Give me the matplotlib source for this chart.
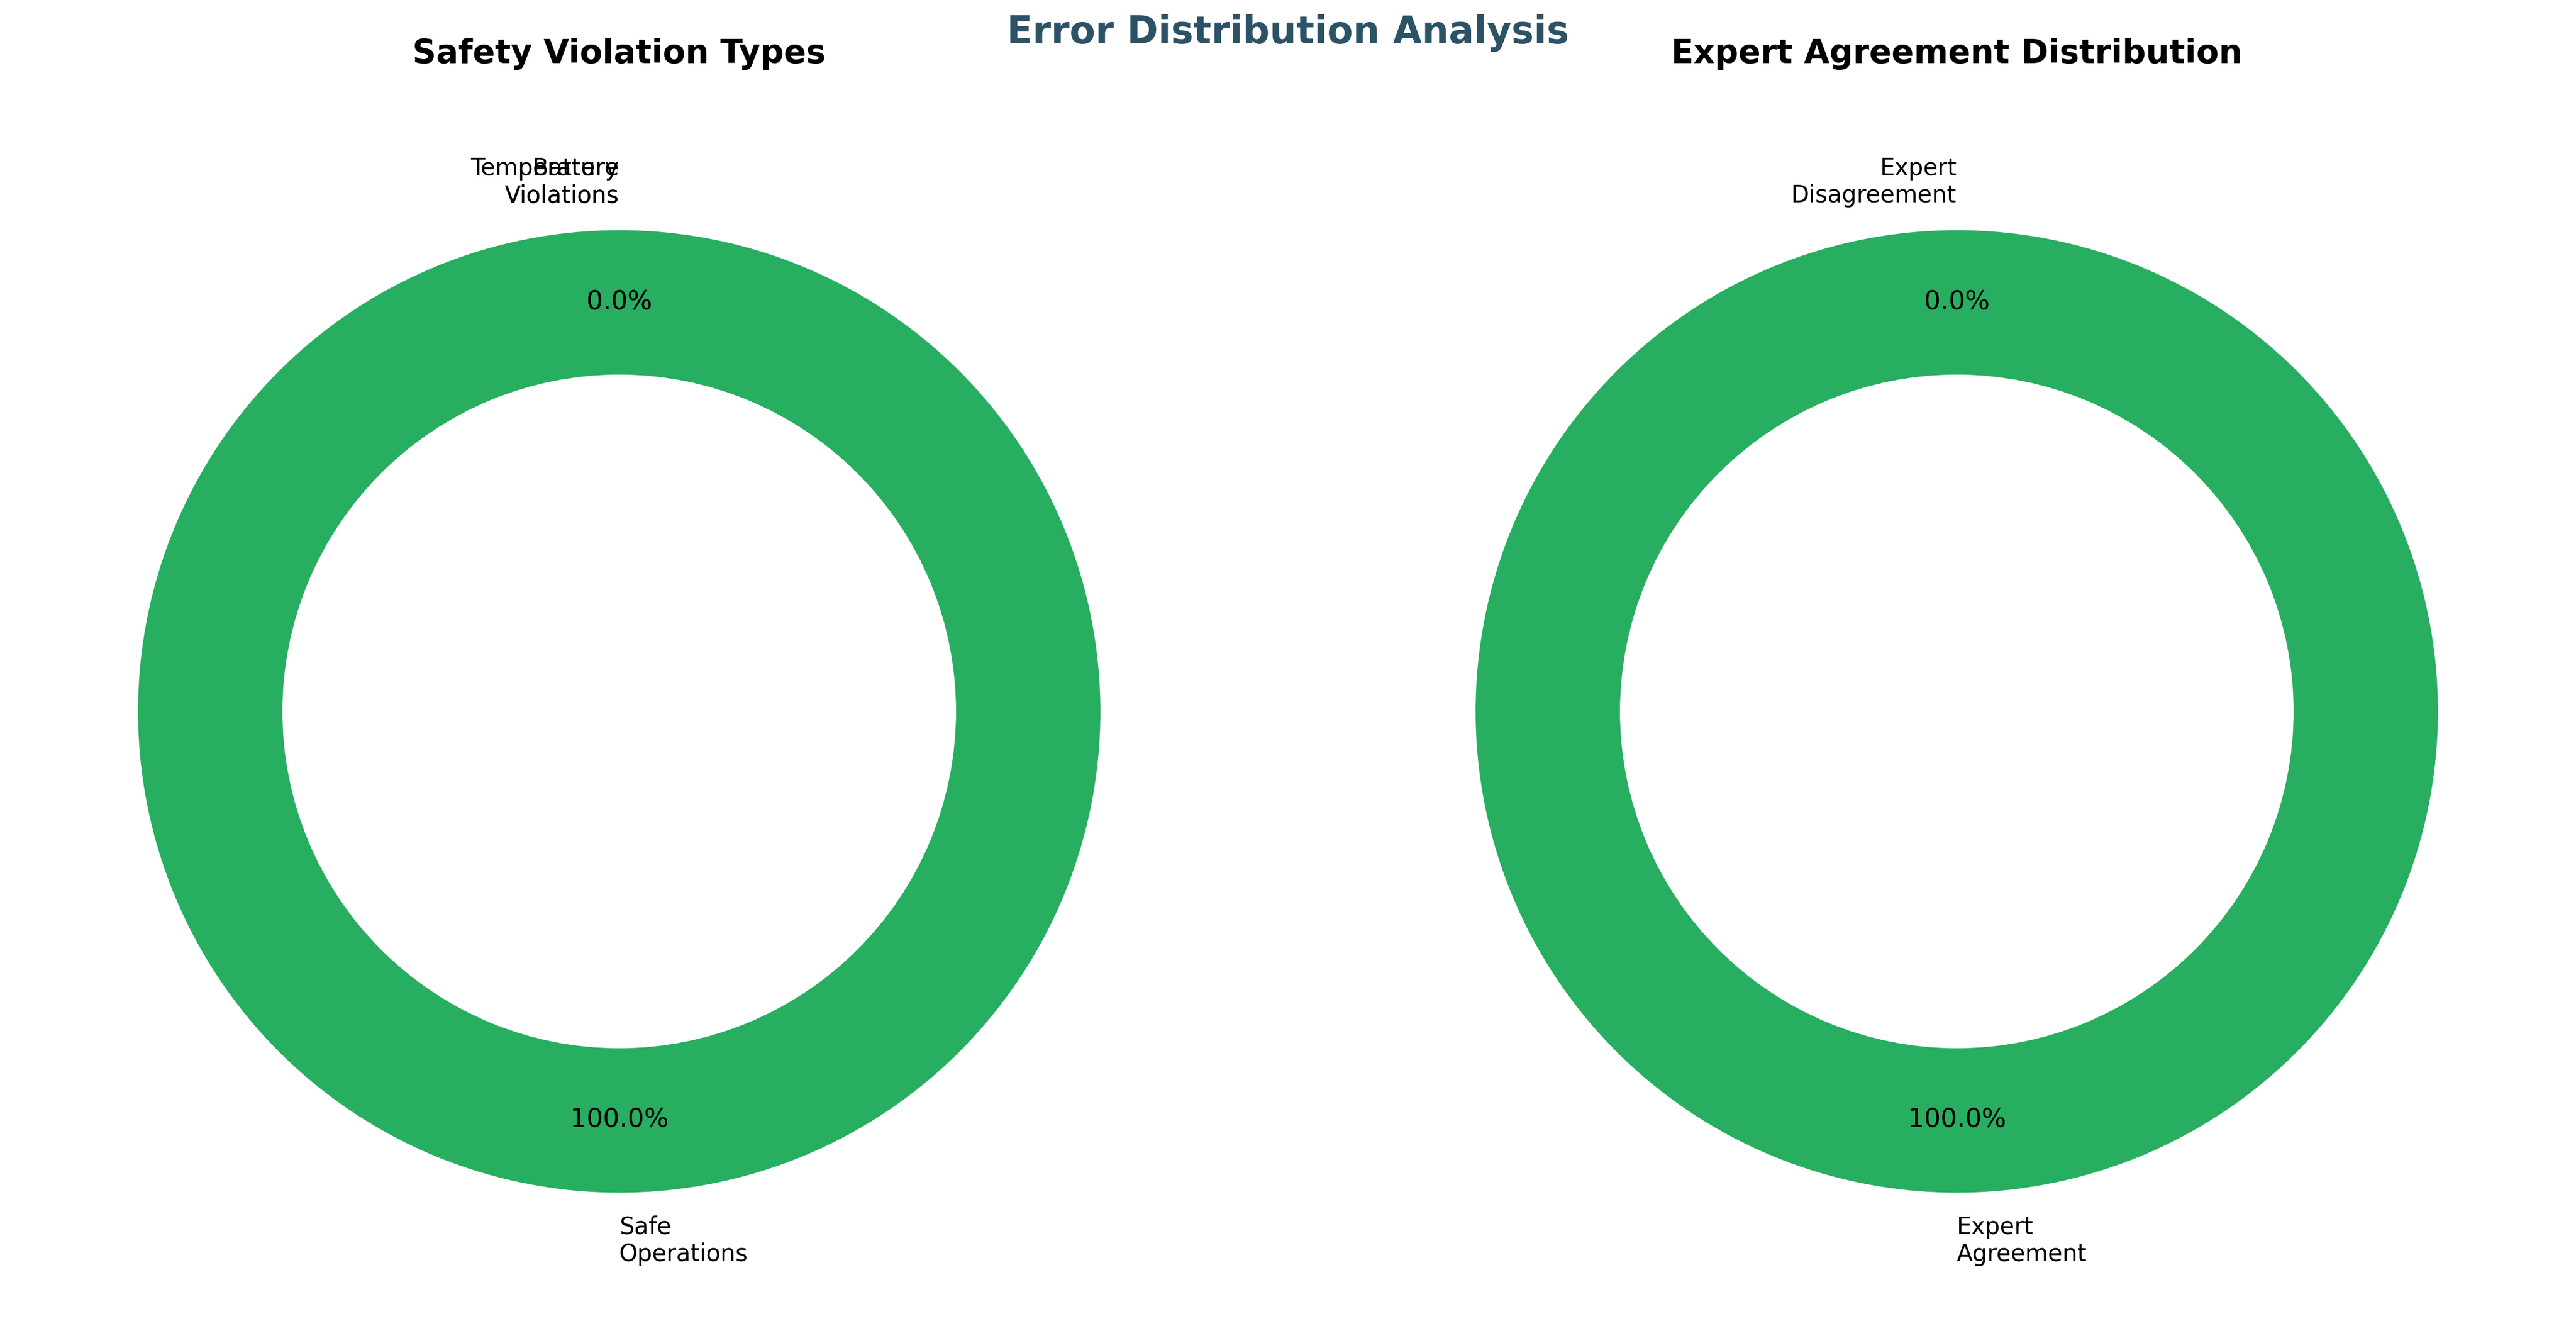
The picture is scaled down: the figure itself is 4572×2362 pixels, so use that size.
import matplotlib
matplotlib.use("Agg")
import matplotlib.pyplot as plt

safety_labels = ["Safe\nOperations", "Temperature\nViolations", "Battery\nViolations"]
safety_values = [100, 0, 0]
safety_colors = ["#27ae60", "#e74c3c", "#f39c12"]

expert_labels = ["Expert\nAgreement", "Expert\nDisagreement"]
expert_values = [100, 0]
expert_colors = ["#27ae60", "#e74c3c"]

fig = plt.figure(figsize=(4572 / 300, 2362 / 300), dpi=300)

axw, axh = 2135 / 4572, 2135 / 2362
ax1 = fig.add_axes([31.5 / 4572, 32 / 2362, axw, axh])
ax2 = fig.add_axes([(3473 - 1067.5) / 4572, 32 / 2362, axw, axh])

for ax, vals, labs, cols, title in [
    (ax1, safety_values, safety_labels, safety_colors, "Safety Violation Types"),
    (ax2, expert_values, expert_labels, expert_colors, "Expert Agreement Distribution"),
]:
    wedges, texts, autotexts = ax.pie(
        vals, labels=labs, colors=cols, autopct="%1.1f%%", startangle=90,
        pctdistance=0.85, wedgeprops=dict(width=0.3),
        textprops=dict(fontsize=10),
    )
    for t in autotexts:
        t.set_fontsize(11)
    for t, v in zip(texts, vals):
        if v == 0:
            t.set_horizontalalignment("right")
        else:
            t.set_horizontalalignment("left")
    ax.set_title(title, fontsize=14, fontweight="bold", pad=20)

fig.suptitle("Error Distribution Analysis", fontsize=16, fontweight="bold",
             color="#2c5266", y=0.9895)

fig.savefig("out.png", dpi=300)
